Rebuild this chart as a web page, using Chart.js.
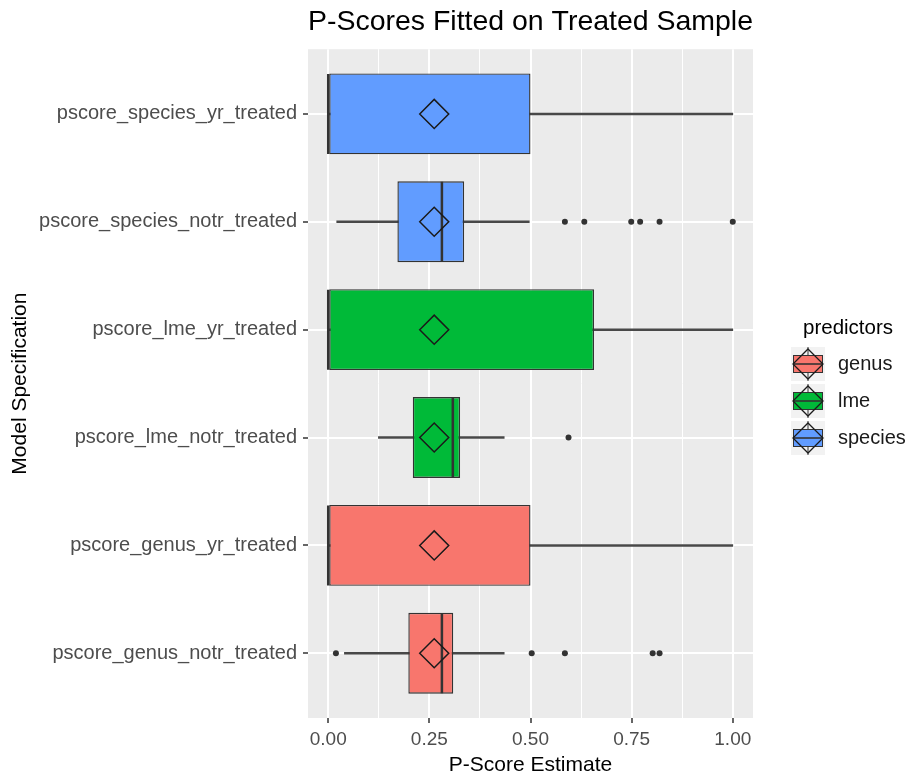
<!DOCTYPE html>
<html>
<head>
<meta charset="utf-8">
<title>P-Scores Fitted on Treated Sample</title>
<script src="https://cdn.jsdelivr.net/npm/chart.js@4.4.1/dist/chart.umd.min.js"></script>
<style>
    html, body { margin: 0; padding: 0; background: #ffffff; }
    #wrap { position: relative; width: 909px; height: 780px; }
    #legend { position: absolute; left: 791px; top: 309px; font-family: "Liberation Sans", Arial, sans-serif; }
    #legend .title { font-size: 20.5px; color: #000; margin-left: 12px; height: 36px; line-height: 36px; }
    #legend .row { display: flex; align-items: center; height: 37px; }
    #legend .row span { font-size: 20px; color: #1a1a1a; margin-left: 13px; }
    #legend canvas { display: block; }
</style>
</head>
<body>
<div id="wrap">
    <canvas id="chart" width="909" height="780"></canvas>
    <div id="legend"></div>
</div>
<script>
"use strict";

// categories, top to bottom
var models = [
    'pscore_species_yr_treated',
    'pscore_species_notr_treated',
    'pscore_lme_yr_treated',
    'pscore_lme_notr_treated',
    'pscore_genus_yr_treated',
    'pscore_genus_notr_treated'
];
var predictors = ['species', 'species', 'lme', 'lme', 'genus', 'genus'];
var legendGroups = ['genus', 'lme', 'species'];

// box statistics
var q1 = [0, 0.171, 0, 0.209, 0, 0.198];
var medians = [0, 0.281, 0, 0.308, 0, 0.281];
var q3 = [0.5, 0.336, 0.657, 0.326, 0.5, 0.309];
var whiskerLow = [0, 0.021, 0, 0.124, 0, 0.040];
var whiskerHigh = [1.0, 0.497, 1.0, 0.435, 1.0, 0.435];
var means = [0.262, 0.262, 0.262, 0.262, 0.262, 0.262];
var outliers = [
    [],
    [0.585, 0.633, 0.749, 0.771, 0.819, 1.0],
    [],
    [0.594],
    [],
    [0.019, 0.503, 0.585, 0.802, 0.819]
];

var xTickValues = [0, 0.25, 0.5, 0.75, 1];
var xTickLabels = ['0.00', '0.25', '0.50', '0.75', '1.00'];
var xMinorValues = [0.125, 0.375, 0.625, 0.875];

var fillColors = { genus: '#F8766D', lme: '#00BA38', species: '#619CFF' };

Chart.defaults.font.family = '"Liberation Sans", Arial, sans-serif';

var boxData = models.map(function (m, i) { return { x: [q1[i], q3[i]], y: i }; });
var whiskerData = models.map(function (m, i) { return { x: [whiskerLow[i], whiskerHigh[i]], y: i }; });
var medianData = models.map(function (m, i) { return { x: medians[i], y: i }; });
var meanData = models.map(function (m, i) { return { x: means[i], y: i }; });
var outlierData = [];
outliers.forEach(function (list, i) {
    list.forEach(function (v) { outlierData.push({ x: v, y: i }); });
});
var boxColors = predictors.map(function (p) { return fillColors[p]; });

function isMajor(c) {
    return !!c.tick && xTickValues.indexOf(c.tick.value) >= 0;
}

const panelBackground = {
    id: 'panelBackground',
    beforeDraw: function (chart) {
        var a = chart.chartArea;
        var ctx = chart.ctx;
        ctx.save();
        ctx.fillStyle = '#EBEBEB';
        ctx.fillRect(a.left, a.top, a.right - a.left, a.bottom - a.top);
        ctx.restore();
    }
};

const context = document.getElementById('chart');
const myChart = new Chart(context, {
    type: 'bar',
    data: {
        datasets: [{
            type: 'scatter',
            label: 'mean',
            data: meanData,
            pointStyle: 'rectRot',
            pointRadius: 14.5,
            pointBorderWidth: 1.5,
            pointBorderColor: '#1A1A1A',
            pointBackgroundColor: 'rgba(0,0,0,0)',
            order: 0
        }, {
            type: 'scatter',
            label: 'median',
            data: medianData,
            pointStyle: 'line',
            pointRotation: 90,
            pointRadius: 40,
            pointBorderWidth: 2.5,
            pointBorderColor: '#333333',
            order: 1
        }, {
            type: 'scatter',
            label: 'outliers',
            data: outlierData,
            pointStyle: 'circle',
            pointRadius: 3,
            pointBorderWidth: 0,
            pointBackgroundColor: '#333333',
            order: 1
        }, {
            type: 'bar',
            label: 'box',
            data: boxData,
            indexAxis: 'y',
            grouped: false,
            backgroundColor: boxColors,
            borderColor: '#333333',
            borderWidth: 1.4,
            borderSkipped: false,
            barPercentage: 0.75,
            categoryPercentage: 1,
            order: 2
        }, {
            type: 'bar',
            label: 'whisker',
            data: whiskerData,
            indexAxis: 'y',
            grouped: false,
            backgroundColor: '#484848',
            barThickness: 1.8,
            order: 3
        }]
    },
    options: {
        responsive: false,
        animation: false,
        events: [],
        layout: { padding: { left: 0, right: 156, top: 0, bottom: 0 } },
        plugins: {
            legend: { display: false },
            tooltip: { enabled: false },
            title: {
                display: true,
                text: 'P-Scores Fitted on Treated Sample',
                fullSize: false,
                color: '#000000',
                font: { size: 28.5, weight: 'normal' },
                padding: { top: 5, bottom: 10 }
            }
        },
        scales: {
            x: {
                type: 'linear',
                offset: false,
                min: -0.05,
                max: 1.05,
                afterBuildTicks: function (axis) {
                    axis.ticks = xTickValues.concat(xMinorValues)
                        .sort(function (a, b) { return a - b; })
                        .map(function (v) { return { value: v }; });
                },
                afterFit: function (axis) { axis.height = 62; },
                ticks: {
                    autoSkip: false,
                    maxRotation: 0,
                    color: '#4D4D4D',
                    font: { size: 19 },
                    padding: 5,
                    callback: function (value) {
                        var k = xTickValues.indexOf(value);
                        return k < 0 ? '' : xTickLabels[k];
                    }
                },
                grid: {
                    offset: false,
                    color: '#FFFFFF',
                    lineWidth: function (c) { return isMajor(c) ? 2 : 1; },
                    tickColor: function (c) { return isMajor(c) ? '#333333' : 'rgba(0,0,0,0)'; },
                    tickLength: 5,
                    tickWidth: 1.5
                },
                border: { display: false },
                title: {
                    display: true,
                    text: 'P-Score Estimate',
                    color: '#000000',
                    font: { size: 21 },
                    padding: { top: 2, bottom: 2 }
                }
            },
            y: {
                type: 'linear',
                offset: false,
                reverse: true,
                min: -0.6,
                max: 5.6,
                afterBuildTicks: function (axis) {
                    axis.ticks = models.map(function (m, i) { return { value: i }; });
                },
                afterFit: function (axis) { axis.width = 308; },
                ticks: {
                    autoSkip: false,
                    color: '#4D4D4D',
                    font: { size: 20 },
                    padding: 6,
                    callback: function (value) { return models[value]; }
                },
                grid: {
                    offset: false,
                    color: '#FFFFFF',
                    lineWidth: 2,
                    tickColor: '#333333',
                    tickLength: 5,
                    tickWidth: 1.5
                },
                border: { display: false },
                title: {
                    display: true,
                    text: 'Model Specification',
                    color: '#000000',
                    font: { size: 21 },
                    padding: { top: 8, bottom: 4 }
                }
            }
        }
    },
    plugins: [panelBackground]
});

// legend with ggplot style keys
function DrawLegendKey(canvas, color) {
    var ctx = canvas.getContext('2d');
    ctx.fillStyle = '#F2F2F2';
    ctx.fillRect(0, 1, 34, 34);
    ctx.strokeStyle = '#333333';
    ctx.lineWidth = 1;
    ctx.beginPath();
    ctx.moveTo(17, 1); ctx.lineTo(17, 9);
    ctx.moveTo(17, 27); ctx.lineTo(17, 35);
    ctx.stroke();
    ctx.fillStyle = color;
    ctx.fillRect(2, 9, 30, 18);
    ctx.strokeRect(2.5, 9.5, 29, 17);
    ctx.lineWidth = 1.6;
    ctx.beginPath();
    ctx.moveTo(2, 18); ctx.lineTo(32, 18);
    ctx.stroke();
    ctx.strokeStyle = '#1A1A1A';
    ctx.lineWidth = 1.3;
    ctx.beginPath();
    ctx.moveTo(17, 3); ctx.lineTo(32, 18); ctx.lineTo(17, 33); ctx.lineTo(2, 18); ctx.closePath();
    ctx.stroke();
}

var legend = document.getElementById('legend');
var title = document.createElement('div');
title.className = 'title';
title.textContent = 'predictors';
legend.appendChild(title);
legendGroups.forEach(function (g) {
    var row = document.createElement('div');
    row.className = 'row';
    var key = document.createElement('canvas');
    key.width = 34;
    key.height = 36;
    DrawLegendKey(key, fillColors[g]);
    var label = document.createElement('span');
    label.textContent = g;
    row.appendChild(key);
    row.appendChild(label);
    legend.appendChild(row);
});
</script>
</body>
</html>
